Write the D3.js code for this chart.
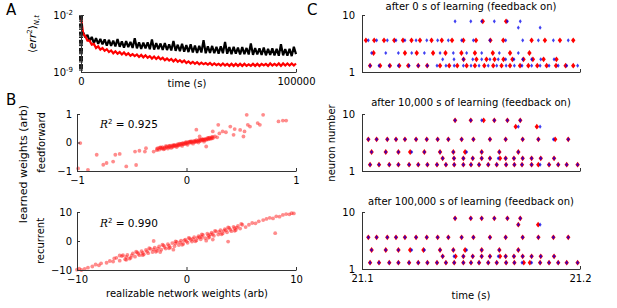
<!DOCTYPE html>
<html>
<head>
<meta charset="utf-8">
<script src="https://cdn.jsdelivr.net/npm/d3@7"></script>
<style>
  body { margin: 0; background: #fff; }
  svg text { font-family: "DejaVu Sans", sans-serif; }
</style>
</head>
<body>
<div id="canvas"></div>
<script>
// ---- panel A: log10 <err^2>, one sample every 1000 s ----
const errStep = 1000;
const errTimeTicks = [0, 100000];
const errExpTicks = [-2, -9];
const errNoFeedback = [
  -4.05,-4.15,-4.75,-4.45,-5.20,-4.70,-5.45,-4.85,-5.55,-4.95,
  -5.60,-5.00,-5.75,-5.05,-5.80,-5.15,-5.85,-4.95,-5.90,-5.25,
  -6.00,-5.20,-5.95,-5.30,-6.05,-4.85,-6.10,-5.35,-6.15,-5.40,
  -6.10,-5.35,-6.20,-5.00,-6.25,-5.45,-6.20,-5.50,-6.30,-5.45,
  -6.30,-5.60,-6.35,-5.20,-6.40,-5.65,-6.45,-5.55,-6.50,-5.70,
  -6.55,-5.60,-6.60,-5.75,-6.65,-5.80,-6.60,-5.10,-6.70,-5.85,
  -6.65,-5.80,-6.70,-5.90,-6.75,-5.85,-6.70,-5.30,-6.75,-5.95,
  -6.80,-5.90,-6.75,-6.00,-6.85,-5.95,-6.80,-6.05,-6.85,-5.50,
  -6.90,-6.05,-6.85,-6.10,-6.90,-6.00,-6.95,-6.15,-6.90,-6.10,
  -6.95,-6.15,-7.00,-5.60,-6.95,-6.20,-7.00,-6.15,-7.05,-5.90,
  -6.80
];
const errFeedback = [
  -2.30,-4.30,-4.60,-5.15,-5.15,-5.65,-5.55,-6.05,-5.85,-6.25,
  -6.05,-6.40,-6.20,-6.55,-6.35,-6.70,-6.45,-6.75,-6.55,-6.85,
  -6.60,-6.90,-6.70,-7.00,-6.80,-7.05,-6.85,-7.15,-6.90,-7.20,
  -6.95,-7.25,-7.05,-7.35,-7.10,-7.40,-7.15,-7.45,-7.25,-7.55,
  -7.35,-7.60,-7.40,-7.70,-7.45,-7.75,-7.55,-7.80,-7.60,-7.90,
  -7.70,-7.95,-7.75,-8.00,-7.80,-8.05,-7.85,-8.05,-7.90,-8.10,
  -7.90,-8.15,-7.95,-8.15,-8.00,-8.20,-7.95,-8.20,-8.00,-8.25,
  -8.00,-8.25,-8.00,-8.25,-8.00,-8.25,-8.00,-8.25,-8.05,-8.25,
  -8.00,-8.25,-8.00,-8.25,-8.00,-8.20,-8.00,-8.25,-7.95,-8.20,
  -8.00,-8.20,-7.95,-8.25,-7.95,-8.20,-7.95,-8.20,-7.95,-8.20,
  -7.95
];

// ---- panel B: realizable vs learned weights ----
const ffTicks = [-1, 0, 1];
const recTicks = [-10, 0, 10];
const ffR2 = "0.925";
const recR2 = "0.990";
const ffPoints = [
  [-0.97,-0.02],[-0.90,-0.96],[-0.99,-0.91],[-0.82,-0.43],[-0.76,-0.78],[-0.73,-0.72],
  [-0.67,-0.67],[-0.65,-0.43],[-0.61,-0.40],[-0.55,-0.84],[-0.47,-0.32],[-0.46,-0.79],
  [-0.43,-0.29],[-0.38,-0.32],[-0.37,-0.20],[-0.30,-0.32],[-0.24,-0.17],[-0.27,-0.27],
  [0.12,0.21],[0.18,-0.14],[0.24,0.39],[0.29,0.62],[0.30,0.32],[0.33,0.39],[0.36,0.36],
  [0.40,0.56],[0.43,0.27],[0.44,0.47],[0.49,0.44],[0.52,0.21],[0.53,0.39],[0.55,0.97],
  [0.56,0.62],[0.58,0.56],[0.65,0.68],[0.67,0.62],[0.70,0.97],[0.84,0.74],[0.88,0.77],
  [0.91,0.77],[0.09,0.45],[0.15,0.10],
  [-0.27,-0.22],[-0.25,-0.25],[-0.24,-0.18],[-0.23,-0.21],[-0.22,-0.16],[-0.21,-0.24],
  [-0.20,-0.19],[-0.19,-0.13],[-0.18,-0.17],[-0.17,-0.21],[-0.16,-0.12],[-0.15,-0.15],
  [-0.14,-0.19],[-0.13,-0.10],[-0.12,-0.14],[-0.11,-0.08],[-0.10,-0.12],[-0.09,-0.16],
  [-0.08,-0.06],[-0.07,-0.10],[-0.06,-0.04],[-0.05,-0.08],[-0.04,-0.12],[-0.03,-0.02],
  [-0.02,-0.06],[-0.01,0.00],[0.00,-0.04],[0.01,-0.08],[0.02,0.02],[0.03,-0.01],
  [0.04,0.04],[0.05,0.00],[0.06,-0.04],[0.07,0.06],[0.08,0.02],[0.09,0.08],
  [0.10,0.04],[0.11,0.00],[0.12,0.10],[0.13,0.06],[0.14,0.12],[0.15,0.08],
  [0.16,0.03],[0.17,0.13],[0.18,0.09],[0.19,0.15],[0.20,0.11],[0.21,0.17],
  [0.22,0.13],[0.23,0.19],[0.24,0.15],[0.26,0.21],[0.28,0.18],
  [-0.26,-0.20],[-0.22,-0.20],[-0.18,-0.14],[-0.15,-0.11],[-0.13,-0.15],[-0.11,-0.11],
  [-0.09,-0.09],[-0.07,-0.07],[-0.05,-0.05],[-0.03,-0.06],[-0.01,-0.03],[0.01,-0.01],
  [0.03,0.03],[0.05,0.04],[0.07,0.02],[0.09,0.03],[0.11,0.07],[0.13,0.09],
  [0.15,0.11],[0.17,0.10],[0.19,0.12],[0.21,0.14],[0.23,0.15],[-0.20,-0.22],
  [-0.16,-0.16],[-0.12,-0.10],[-0.08,-0.11],[-0.04,-0.03],[0.00,0.01],[0.04,0.01],
  [0.08,0.05],[0.12,0.05],[0.16,0.09],[0.20,0.16],[0.24,0.20]
];
const recPoints = [
  [-10,-9.9],[-9.8,-9.5],[-9.6,-10],[-9.3,-9.6],[-9.0,-9.2],[-8.6,-8.8],[-8.3,-8.1],
  [-8.0,-8.4],[-7.8,-7.7],[-7.3,-7.5],[-7.0,-6.9],[-6.7,-7.1],
  [-6.4,-5.8],[-6.1,-6.8],[-5.9,-5.2],[-5.6,-6.3],[-5.4,-4.8],[-5.1,-5.8],[-4.9,-4.3],
  [-4.7,-5.4],[-4.5,-3.9],[-4.3,-4.9],[-4.1,-3.5],[-3.9,-4.6],[-3.7,-3.1],[-3.5,-4.2],
  [-3.3,-2.7],[-3.1,-3.8],[-2.9,-2.3],[-2.7,-3.4],[-2.5,-1.9],[-2.3,-3.0],[-2.1,-1.5],
  [-1.9,-2.6],[-1.7,-1.1],[-1.5,-2.2],[-1.3,-0.7],[-1.1,-1.8],[-0.9,-0.3],[-0.7,-1.4],
  [-0.5,0.1],[-0.3,-1.0],[-0.1,0.5],[0.1,-0.6],[0.3,0.9],[0.5,-0.2],[0.7,1.3],
  [0.9,0.2],[1.1,1.7],[1.3,0.6],[1.5,2.1],[1.7,1.0],[1.9,2.5],[2.1,1.4],[2.3,2.9],
  [2.5,1.8],[2.7,3.3],[2.9,2.2],[3.1,3.7],[3.3,2.6],[3.5,4.1],[3.7,3.0],[3.9,4.5],
  [4.1,3.4],[4.3,4.9],[4.5,3.8],[4.7,5.2],[4.9,4.3],[5.1,5.6],[5.4,4.8],
  [-5.0,-5.0],[-4.0,-4.1],[-3.0,-2.9],[-2.0,-2.1],[-1.0,-0.9],[0.0,-0.1],[1.0,1.1],
  [2.0,2.0],[3.0,3.1],[4.0,3.9],[-3.6,-3.6],[-2.6,-2.6],[-1.6,-1.6],[-0.6,-0.5],
  [0.4,0.4],[1.4,1.4],[2.4,2.4],[3.4,3.5],[-5.5,-5.5],[-4.4,-4.4],[4.4,4.4],
  [-5.8,-4.9],[-5.2,-6.1],[-4.6,-3.7],[-4.0,-4.9],[-3.4,-2.5],[-2.8,-3.7],[-2.2,-1.3],
  [-1.6,-2.5],[-1.0,-0.1],[-0.4,-1.3],[0.2,1.1],[0.8,-0.1],[1.4,2.3],[2.0,1.1],
  [2.6,3.5],[3.2,2.3],[3.8,4.7],[4.4,3.5],[5.0,5.9],[-6.6,-6.0],[-0.2,0.2],
  [0.6,0.7],[1.2,1.3],[2.2,2.3],[3.6,3.7],[4.6,4.6],
  [5.7,5.6],[6.0,6.2],[6.3,6.1],[6.6,6.8],[7.0,7.2],[7.3,7.6],[7.6,8.0],[7.9,7.8],
  [8.2,8.5],[8.5,8.4],[8.8,9.0],[9.1,9.3],[9.4,9.2],[9.6,9.6],[9.8,9.5],
  [-3.0,0.0],[-1.2,-3.0],[2.4,0.5],[3.8,-0.2],[8.1,2.7],[-6.1,-5.0],[-5.5,-6.5],
  [1.8,0.1],[-2.4,-3.8]
];

// ---- panel C: spike rasters, times in ms after 21.1 s ----
const rasterStart = 21.1;
const rasterTicks = [21.1, 21.2];
const neuronIds = [2, 3, 4, 6, 8, 9];
const rasterTitles = [
  "after 0 s of learning (feedback on)",
  "after 10,000 s of learning (feedback on)",
  "after 100,000 s of learning (feedback on)"
];
// target spikes (blue), one list per neuron in neuronIds order
const targetMs = [
  [3.7,7.8,12.5,16.7,21.6,25.8,30.0,34.4,38.5,42.3,46.5,50.0,53.7,57.9,61.8,66.1,69.9,73.4,77.8,81.7,85.8,90.0,93.9,98.9],
  [37.0,42.2,46.5,50.8,54.9,58.7,62.5,65.9,69.7,73.7,77.8,82.0,88.1],
  [4.4,10.9,16.7,22.8,28.6,35.8,41.9,48.0,54.9,63.0,71.7],
  [2.9,6.7,11.6,15.6,19.7,24.8,29.7,34.7,39.6,45.7,51.1,58.7,65.9,73.7,80.9,87.8,94.6],
  [71.7,81.7],
  [42.7,49.9,54.9,60.7,66.7,72.6]
];
// network spikes (red) after 0 s of learning
const net0Ms = [
  [3.7,8.3,12.8,17.1,21.2,25.8,29.9,35.8,40.0,43.7,48.0,51.8,56.1,60.2,64.0,67.9,72.5,76.3,80.4,84.7,89.0,93.4,96.9],
  [46.6,52.5,57.1,60.8,64.9,69.0,74.1,78.4,83.3,89.2],
  [5.3,19.7,25.1,32.6,38.3,45.6,51.8,60.0,67.9,76.8],
  [1.8,5.6,10.1,14.8,18.8,22.7,26.6,31.9,36.6,41.3,46.5,52.3,58.9,64.8,77.8,83.9,90.8,96.9],
  [],
  [55.4,66.1]
];
// network spikes after 10,000 s
const net10kMs = [
  [3.7,7.8,12.5,16.7,21.6,25.8,30.0,34.4,38.5,42.3,46.5,50.0,53.7,57.9,61.8,66.1,69.9,73.4,77.8,80.9,85.8,90.0,93.9,98.9],
  [37.0,42.2,46.5,50.8,54.9,58.7,63.3,65.9,69.7,73.7,77.8,82.0,88.1],
  [4.4,10.9,16.7,22.1,28.6,35.8,41.9,47.3,54.9,63.0,71.7],
  [2.9,6.7,11.6,15.6,19.7,24.8,29.7,34.7,39.6,45.7,51.1,58.7,65.9,73.7,80.9,88.6,94.6],
  [70.5,80.2],
  [42.7,49.9,55.8,60.7,66.7,72.6]
];
// network spikes after 100,000 s
const net100kMs = [
  [3.7,7.8,12.5,16.7,21.6,25.8,30.0,34.4,38.5,42.3,46.5,50.0,53.7,57.9,61.8,66.1,69.9,74.2,77.0,81.7,85.8,90.0,93.9,98.9],
  [37.0,42.9,46.5,50.8,54.9,58.7,63.3,65.9,69.7,73.7,77.8,82.0,88.1],
  [4.4,10.9,16.7,22.1,28.2,35.8,41.9,47.3,54.9,63.0,71.7],
  [2.9,6.7,11.6,15.6,19.7,24.8,29.7,34.7,39.6,45.7,51.1,58.7,65.9,73.7,80.9,87.8,94.6],
  [71.7,80.8],
  [42.7,49.9,54.9,60.7,66.7,72.6]
];

const svg = d3.select("#canvas").append("svg")
    .attr("width", 617)
    .attr("height", 308);

const axisColor = "#333";

function styleAxis(g) {
    g.attr("font-family", "DejaVu Sans").attr("font-size", 10);
    g.select(".domain").attr("stroke", axisColor);
    g.selectAll(".tick line").attr("stroke", axisColor);
    g.selectAll(".tick text").attr("fill", "#000");
}

function label(x, y, txt, opts = {}) {
    const t = svg.append("text")
        .attr("x", x)
        .attr("y", y)
        .attr("font-size", opts.size || 10)
        .attr("text-anchor", opts.anchor || "middle")
        .attr("fill", "#000")
        .text(txt);
    if (opts.rotate) {
        t.attr("x", 0).attr("y", 0)
            .attr("transform", `translate(${x},${y}) rotate(-90)`);
    }
    return t;
}

// panel letters
label(6, 15, "A", { size: 15, anchor: "start" });
label(6, 105, "B", { size: 15, anchor: "start" });
label(307, 15, "C", { size: 15, anchor: "start" });

// ================= Panel A =================
const xA = d3.scaleLinear().domain([0, 100000]).range([81, 296]);
const yA = d3.scaleLog().domain([1e-9, 1e-2]).range([72, 15]);

const errLine = d3.line()
    .x((d, i) => xA(i * errStep))
    .y(d => yA(Math.pow(10, d)));

svg.append("path")
    .datum(errNoFeedback)
    .attr("d", errLine)
    .attr("fill", "none")
    .attr("stroke", "#000")
    .attr("stroke-width", 2.2)
    .attr("stroke-linejoin", "bevel");

svg.append("path")
    .datum(errFeedback)
    .attr("d", errLine)
    .attr("fill", "none")
    .attr("stroke", "#ff0000")
    .attr("stroke-width", 2.2);

// minor log ticks (they give the dashed look on the axis)
const minorA = yA.ticks().filter(v => {
    const m = v / Math.pow(10, Math.floor(Math.log10(v) + 1e-9));
    return Math.round(m) !== 1;
});
svg.append("g")
    .attr("transform", "translate(83,0)")
    .call(d3.axisLeft(yA).tickValues(minorA).tickSize(4).tickSizeOuter(0).tickFormat(""))
    .call(g => g.select(".domain").remove())
    .call(g => g.selectAll(".tick line").attr("stroke", "#111"));

svg.append("g")
    .attr("transform", "translate(81,0)")
    .call(d3.axisLeft(yA).tickValues(errExpTicks.map(e => Math.pow(10, e))).tickSize(-3).tickSizeOuter(0).tickFormat(""))
    .call(styleAxis);

errExpTicks.forEach(e => {
    const t = svg.append("text")
        .attr("x", 73)
        .attr("y", yA(Math.pow(10, e)) + 3.5)
        .attr("text-anchor", "end")
        .attr("font-size", 10);
    t.append("tspan").text("10");
    t.append("tspan").attr("dy", -4).attr("font-size", 7).text("-" + Math.abs(e));
});

svg.append("g")
    .attr("transform", "translate(0,72)")
    .call(d3.axisBottom(xA).tickValues(errTimeTicks).tickSize(-3).tickSizeOuter(0)
        .tickPadding(6).tickFormat(d3.format("d")))
    .call(styleAxis);

label(187, 87, "time (s)");

// y label <err^2>_{N,t}
const yLabA = svg.append("text")
    .attr("transform", "translate(36,34) rotate(-90)")
    .attr("text-anchor", "middle")
    .attr("font-size", 10.5);
yLabA.append("tspan").text("\u27E8");
yLabA.append("tspan").attr("font-style", "italic").text("err");
yLabA.append("tspan").attr("dy", -4).attr("font-size", 7).text("2");
yLabA.append("tspan").attr("dy", 4).text("\u27E9");
yLabA.append("tspan").attr("dy", 3).attr("font-size", 7).attr("font-style", "italic").text("N,t");

// ================= Panel B =================
const xB = d3.scaleLinear().range([77, 296]);

function scatterPanel(points, ext, ticks, top, bottom, r2, r2y) {
    const x = xB.copy().domain([-ext, ext]);
    const y = d3.scaleLinear().domain([-ext, ext]).range([bottom, top]);

    svg.append("g")
        .selectAll("circle")
        .data(points)
        .enter()
        .append("circle")
        .attr("cx", d => x(d[0]))
        .attr("cy", d => y(d[1]))
        .attr("r", 1.9)
        .attr("fill", "#ff1a1a")
        .attr("fill-opacity", 0.5);

    svg.append("g")
        .attr("transform", `translate(0,${bottom})`)
        .call(d3.axisBottom(x).tickValues(ticks).tickSize(-3).tickSizeOuter(0).tickPadding(6)
            .tickFormat(d3.format("d")))
        .call(styleAxis);

    svg.append("g")
        .attr("transform", `translate(77,0)`)
        .call(d3.axisLeft(y).tickValues(ticks).tickSize(-3).tickSizeOuter(0).tickPadding(5)
            .tickFormat(d3.format("d")))
        .call(styleAxis);

    const t = svg.append("text")
        .attr("x", 100)
        .attr("y", r2y)
        .attr("font-size", 10.5);
    t.append("tspan").attr("font-style", "italic").attr("font-family", "DejaVu Serif").text("R");
    t.append("tspan").attr("dy", -4).attr("font-size", 7).text("2");
    t.append("tspan").attr("dy", 4).text(" = " + r2);
}

scatterPanel(ffPoints, 1, ffTicks, 114, 171, ffR2, 128);
scatterPanel(recPoints, 10, recTicks, 212, 270, recR2, 227);

label(45, 142.5, "feedforward", { rotate: true });
label(44, 241, "recurrent", { rotate: true });
label(27, 164, "learned weights (arb)", { rotate: true, size: 11 });
label(187, 297, "realizable network weights (arb)");

// ================= Panel C =================
const xC = d3.scaleLinear().domain([21.1, 21.2]).range([362, 580]);
const rasterTops = [15, 114, 212];
const rasterTitleY = [10, 106, 205];
const netSets = [net0Ms, net10kMs, net100kMs];

function diamond(cx, cy, hw, hh) {
    return `M${cx},${cy - hh}L${cx + hw},${cy}L${cx},${cy + hh}L${cx - hw},${cy}Z`;
}

rasterTops.forEach((top, p) => {
    const y = d3.scaleLinear().domain([1, 10]).range([top + 57, top]);

    const flat = (sets) => sets.flatMap((ms, i) =>
        ms.map(m => ({ t: rasterStart + m / 1000, n: neuronIds[i] })));

    // network spikes
    svg.append("g")
        .selectAll("path")
        .data(flat(netSets[p]))
        .enter()
        .append("path")
        .attr("d", d => diamond(xC(d.t), y(d.n), 2.2, 2.9))
        .attr("fill", "#ff0000");

    // target spikes
    svg.append("g")
        .selectAll("path")
        .data(flat(targetMs))
        .enter()
        .append("path")
        .attr("d", d => diamond(xC(d.t), y(d.n), 1.5, 2.1))
        .attr("fill", "#0000ee")
        .attr("fill-opacity", 0.75);

    svg.append("g")
        .attr("transform", `translate(0,${top + 57})`)
        .call(d3.axisBottom(xC).tickValues(rasterTicks).tickSize(-3).tickSizeOuter(0).tickPadding(6)
            .tickFormat(p === 2 ? d3.format(".1f") : ""))
        .call(styleAxis);

    svg.append("g")
        .attr("transform", "translate(362,0)")
        .call(d3.axisLeft(y).tickValues([1, 10]).tickSize(-3).tickSizeOuter(0).tickPadding(7)
            .tickFormat(d3.format("d")))
        .call(styleAxis);

    label(471, rasterTitleY[p], rasterTitles[p]);
});

label(335, 143, "neuron number", { rotate: true });
label(471, 299, "time (s)");
</script>
</body>
</html>
